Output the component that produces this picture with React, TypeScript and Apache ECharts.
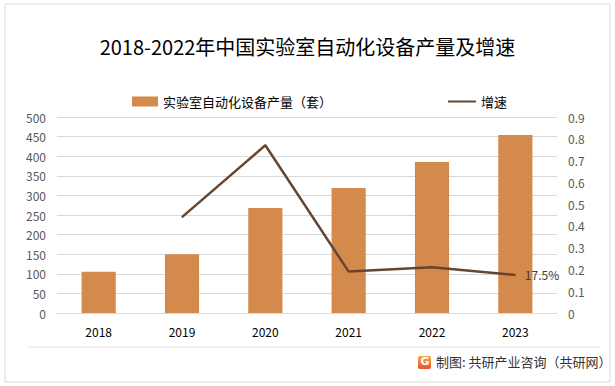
import React, { useEffect, useRef } from "react";
import * as echarts from "echarts";

const categories = ["2018", "2019", "2020", "2021", "2022", "2023"];
const production = [105, 150, 268, 319, 385, 454];
const growth: (number | null)[] = [null, 0.44, 0.77, 0.19, 0.21, 0.175];
const leftTicks = { min: 0, max: 500, interval: 50 };
const rightTicks = { min: 0, max: 0.9, interval: 0.1 };
const barName = "实验室自动化设备产量（套）";
const lineName = "增速";
const titleText = "2018-2022年中国实验室自动化设备产量及增速";
const footerText = "制图: 共研产业咨询（共研网）";

export default function App() {
  const ref = useRef<HTMLDivElement>(null);
  useEffect(() => {
    document.body.style.margin = "0";
    const chart = echarts.init(ref.current!, null, { renderer: "svg" });
    const font = "'Noto Sans CJK SC', 'Noto Sans', sans-serif";
    chart.setOption({
      animation: false,
      backgroundColor: "#ffffff",
      textStyle: { fontFamily: font },
      title: {
        text: titleText,
        left: "center",
        top: 31,
        textStyle: { fontSize: 20, fontWeight: "normal", color: "#000000", fontFamily: font },
      },
      legend: [
        {
          data: [{ name: barName, icon: "rect" }],
          left: 127,
          top: 90,
          itemWidth: 26,
          itemHeight: 10,
          itemGap: 4,
          textStyle: { fontSize: 13, color: "#000000", fontFamily: font },
        },
        {
          data: [{ name: lineName }],
          left: 442,
          top: 90,
          itemWidth: 28,
          itemHeight: 10,
          textStyle: { fontSize: 13, color: "#000000", fontFamily: font },
          itemStyle: { opacity: 0 },
        },
      ],
      grid: { left: 57, right: 58, top: 117, bottom: 73, containLabel: false },
      xAxis: {
        type: "category",
        data: categories,
        axisLine: { show: true, lineStyle: { color: "#d9d9d9" } },
        axisTick: { show: false },
        axisLabel: { color: "#000000", fontSize: 12, margin: 12 },
      },
      yAxis: [
        {
          type: "value",
          ...leftTicks,
          axisLine: { show: false },
          axisTick: { show: false },
          axisLabel: { color: "#595959", fontSize: 12, margin: 11 },
          splitLine: { lineStyle: { color: "#d9d9d9", width: 1 } },
        },
        {
          type: "value",
          ...rightTicks,
          position: "right",
          axisLine: { show: false },
          axisTick: { show: false },
          axisLabel: {
            color: "#595959",
            fontSize: 12,
            margin: 11,
            formatter: (v: number) => (v === 0 ? "0" : String(+v.toFixed(1))),
          },
          splitLine: { show: false },
        },
      ],
      series: [
        {
          name: barName,
          type: "bar",
          data: production,
          barWidth: "41%",
          itemStyle: { color: "#D38A4C" },
        },
        {
          name: lineName,
          type: "line",
          yAxisIndex: 1,
          data: growth,
          symbol: "circle",
          symbolSize: 1,
          showSymbol: true,
          lineStyle: { color: "#654630", width: 2.5 },
          itemStyle: { color: "#654630" },
          label: {
            show: true,
            position: "right",
            distance: 9,
            color: "#404040",
            fontSize: 12,
            formatter: (p: any) =>
              p.dataIndex === categories.length - 1 ? (p.value * 100).toFixed(1) + "%" : "",
          },
        },
      ],
      graphic: [
        {
          type: "rect",
          shape: { x: 5, y: 4, width: 605, height: 378 },
          style: { fill: "none", stroke: "#d9d9d9", lineWidth: 1 },
          silent: true,
        },
        {
          type: "line",
          shape: { x1: 27, y1: 347, x2: 600, y2: 347 },
          style: { stroke: "#e6e6e6", lineWidth: 1 },
          silent: true,
        },
        {
          type: "rect",
          shape: { x: 418, y: 356, width: 13, height: 13, r: 2 },
          style: {
            fill: new echarts.graphic.LinearGradient(0, 0, 0, 1, [
              { offset: 0, color: "#f7a54a" },
              { offset: 1, color: "#e5532d" },
            ]),
          },
          silent: true,
        },
        {
          type: "text",
          x: 420.5,
          y: 356,
          style: { text: "G", fill: "#ffffff", fontSize: 11, fontWeight: "bold", fontFamily: "DejaVu Sans" },
          silent: true,
        },
        {
          type: "text",
          x: 436,
          y: 355,
          style: { text: footerText, fill: "#333333", fontSize: 13, fontFamily: font },
          silent: true,
        },
      ],
    });
    return () => chart.dispose();
  }, []);
  return <div ref={ref} style={{ width: 615, height: 386 }} />;
}
